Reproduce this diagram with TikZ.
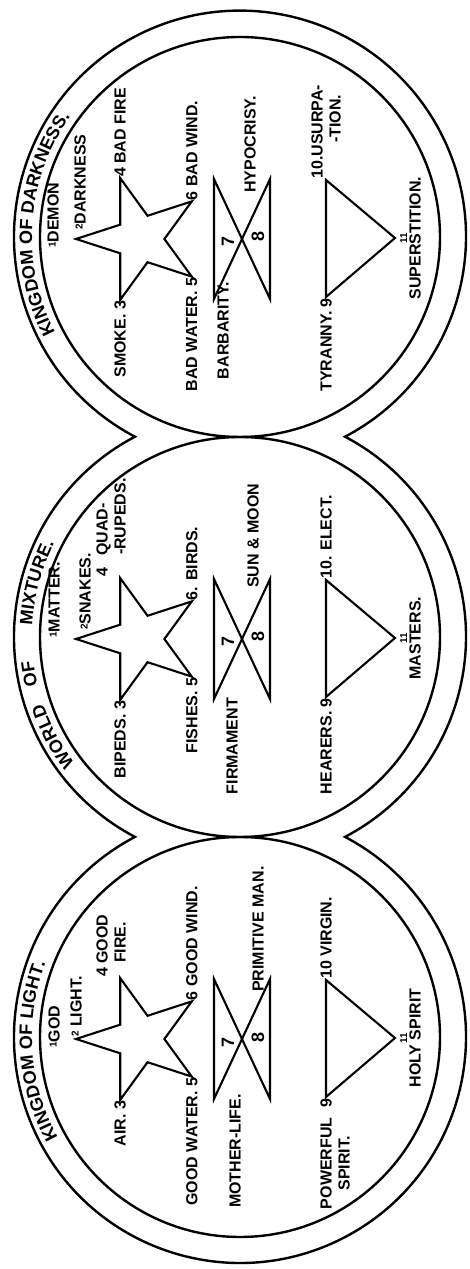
\documentclass[tikz,border=0pt]{standalone}
\usepackage{fontspec}
\setmainfont{Liberation Sans}
\usetikzlibrary{decorations.text,positioning,calc}

\newcommand{\lblfont}{\fontsize{16}{18}\selectfont\bfseries}
\newcommand{\titlefont}{\fontsize{18}{18}\selectfont\bfseries}
\newcommand{\nr}[1]{\raisebox{3pt}{\fontsize{10}{10}\selectfont #1}}

% star, hourglass and triangle shared by the three realms
\newcommand{\realmshapes}{%
  \begin{scope}[shift={(-2,100)}]
    \foreach \i/\k in {0/2,2/4,4/6,6/5,8/3}
      \coordinate (p\k) at ({90-36*\i}:64);
    \draw[figline] (90:64) \foreach \i in {1,...,9} {-- ({90-36*\i}:{isodd(\i)?24.4:64})} -- cycle;
  \end{scope}
  \coordinate (h1) at (-62,26);
  \coordinate (h2) at (58,26);
  \coordinate (h3) at (-62,-30);
  \coordinate (h4) at (58,-30);
  \draw[figline] (h1) -- (h2) -- (h3) -- (h4) -- cycle;
  \node[bignum] (seven) at (-5,12) {7};
  \node[bignum] (eight) at (0,-18) {8};
  \coordinate (t9) at (-60,-86);
  \coordinate (t10) at (57,-86);
  \coordinate (t11) at (-1,-155);
  \draw[figline] (t9) -- (t10) -- (t11) -- cycle;
}

\newcommand{\arctitle}[4]{%
  \path[decorate,decoration={text along path,text align=center,text={|\titlefont|#4}}]
    (#1) ++(#2:208) arc[start angle=#2,end angle=#3,radius=208];}

\begin{document}
\begin{tikzpicture}[x=1pt,y=1pt,rotate=90,transform shape,
    ring/.style={line width=2.4pt},
    figline/.style={line width=2.1pt,line join=miter},
    lbl/.style={font=\lblfont,inner sep=1pt,align=left},
    bignum/.style={font=\fontsize{18}{18}\selectfont\bfseries,inner sep=0pt}]
  \useasboundingbox (0,-229) rectangle (1269,240);

  \coordinate (L) at (232,0);
  \coordinate (M) at (632,0);
  \coordinate (D) at (1032,0);

  % outline and the three inner circles
  \draw[ring] (L) ++(27.7:226) arc[start angle=27.7,end angle=332.3,radius=226]
    arc[start angle=207.7,end angle=332.3,radius=226]
    arc[start angle=207.7,end angle=512.3,radius=226]
    arc[start angle=27.7,end angle=152.3,radius=226] -- cycle;
  \foreach \c in {L,M,D}
    \draw[ring] (\c) circle[radius=200];

  \arctitle{L}{142}{46}{KINGDOM OF LIGHT.}
  \arctitle{M}{138}{98}{WORLD}
  \arctitle{M}{110}{90}{OF}
  \arctitle{M}{104}{46}{MIXTURE.}
  \arctitle{D}{128}{44}{KINGDOM OF DARKNESS.}

  % kingdom of light
  \begin{scope}[shift={(232,0)},name prefix=L-]
    \realmshapes
    \node[lbl,anchor=west] (god) at (-12,186) {\nr{1}GOD};
    \node[lbl,anchor=west] (light) at ([xshift=1]p2) {\nr{2} LIGHT.};
    \node[lbl,anchor=east] (air) at (p3) {AIR. 3};
    \node[lbl,anchor=base west] (fire) at ([yshift=-5.5]p4) {4 GOOD\\\hspace*{14pt}FIRE.};
    \node[lbl,anchor=east] (water) at (p5) {GOOD WATER. 5};
    \node[lbl,anchor=west] (wind) at (p6) {6 GOOD WIND.};
    \node[lbl,anchor=east] (mother) at (-56,5) {MOTHER-LIFE.};
    \node[lbl,anchor=west] (primal) at (44,-18) {PRIMITIVE MAN.};
    \node[lbl,anchor=east] (nine) at (t9) {9};
    \node[lbl,anchor=north east,align=center] (power) at ([xshift=-8]nine.north west) {POWERFUL\\SPIRIT.};
    \node[lbl,anchor=west] (virgin) at (t10) {10 VIRGIN.};
    \node[lbl,anchor=north] (eleven) at ([yshift=-4]t11) {\fontsize{10}{10}\selectfont 11};
    \node[lbl,anchor=north] (holy) at (eleven.south) {HOLY SPIRIT};
  \end{scope}

  % world of mixture
  \begin{scope}[shift={(632,0)},name prefix=M-]
    \realmshapes
    \node[lbl,anchor=west] (matter) at (-2,186) {\nr{1}MATTER.};
    \node[lbl,anchor=west] (snakes) at ([shift={(8,-9)}]p2) {\nr{2}SNAKES.};
    \node[lbl,anchor=east] (bipeds) at (p3) {BIPEDS. 3};
    \node[lbl,anchor=base west] (quad) at ([yshift=-5.5]p4) {4 \hspace{8pt}QUAD-\\\hspace*{22pt}-RUPEDS.};
    \node[lbl,anchor=east] (fishes) at (p5) {FISHES. 5};
    \node[lbl,anchor=west] (birds) at (p6) {6. BIRDS.};
    \node[lbl,anchor=east] (firm) at (-60,8) {FIRMAMENT};
    \node[lbl,anchor=west] (sun) at (48,-13) {SUN \& MOON};
    \node[lbl,anchor=east] (hearers) at (t9) {HEARERS. 9};
    \node[lbl,anchor=west] (elect) at (t10) {10. ELECT.};
    \node[lbl,anchor=north] (eleven) at ([yshift=-4]t11) {\fontsize{10}{10}\selectfont 11};
    \node[lbl,anchor=north] (masters) at (eleven.south) {MASTERS.};
  \end{scope}

  % kingdom of darkness
  \begin{scope}[shift={(1032,0)},name prefix=D-]
    \realmshapes
    \node[lbl,anchor=west] (demon) at (-12,187) {\nr{1}DEMON};
    \node[lbl,anchor=west] (dark) at ([shift={(8,-4)}]p2) {\nr{2}DARKNESS};
    \node[lbl,anchor=east] (smoke) at (p3) {SMOKE. 3};
    \node[lbl,anchor=west] (badfire) at (p4) {4 BAD FIRE};
    \node[lbl,anchor=east] (badwater) at (p5) {BAD WATER. 5};
    \node[lbl,anchor=west] (badwind) at (p6) {6 BAD WIND.};
    \node[lbl,anchor=east] (barb) at (-44,17) {BARBARITY.};
    \node[lbl,anchor=west] (hypo) at (43,-10) {HYPOCRISY.};
    \node[lbl,anchor=east] (tyranny) at (t9) {TYRANNY. 9};
    \node[lbl,anchor=west] (usurp) at (t10) {10.USURPA-\\\hspace*{36pt}-TION.};
    \node[lbl,anchor=north] (eleven) at ([yshift=-4]t11) {\fontsize{10}{10}\selectfont 11};
    \node[lbl,anchor=north] (super) at (eleven.south) {SUPERSTITION.};
  \end{scope}
\end{tikzpicture}
\end{document}
